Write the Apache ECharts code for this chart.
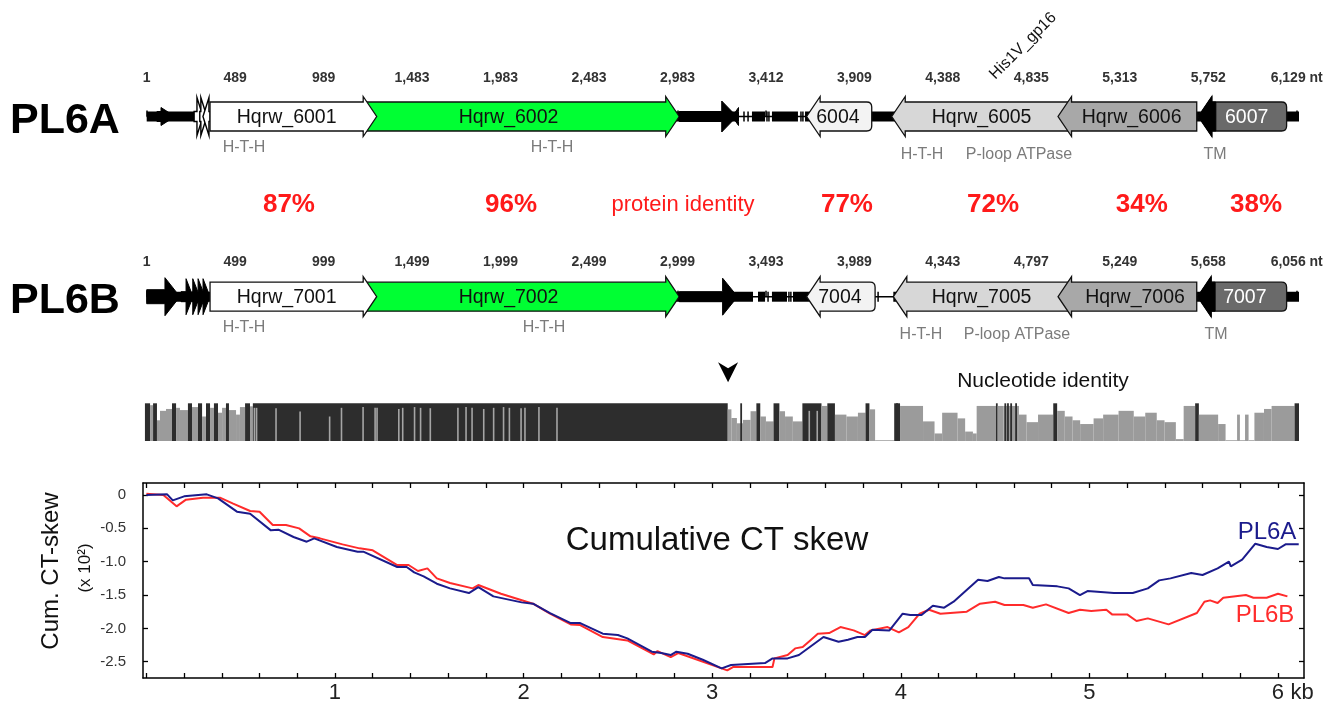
<!DOCTYPE html>
<html><head><meta charset="utf-8">
<script src="https://cdn.jsdelivr.net/npm/echarts@6/dist/echarts.min.js"></script>
<style>html,body{margin:0;padding:0;background:#fff}#c{width:1341px;height:703px}</style>
</head><body><div id="c"></div>
<script>
// ================= DATA =================
// gene-map axis: alignment position (columns), ticks every 500 columns
const tickLabelsA = ['1','489','989','1,483','1,983','2,483','2,983','3,412','3,909','4,388','4,835','5,313','5,752','6,129 nt'];
const tickLabelsB = ['1','499','999','1,499','1,999','2,499','2,999','3,493','3,989','4,343','4,797','5,249','5,658','6,056 nt'];

// PL6A genes (alignment columns), drawn in this order
const geneA_start  = [58, 268, 300, 318, 1223, 358, 3010, 3310, 3730, 4211, 5151, 5944];
const geneA_end    = [160, 318, 340, 358, 3010, 1300, 3335, 3345, 4098, 5227, 5935, 6443];
const geneA_strand = [1, 1, 1, -1, 1, 1, 1, -1, -1, -1, -1, -1];
const geneA_kind   = ['S','TO','TO','TO','G','W','K','S','P','L','M','D'];
const geneA_name   = ['','','','','Hqrw_6002','Hqrw_6001','','','6004','Hqrw_6005','Hqrw_6006','6007'];
const geneA_nameAt = [0,0,0,0,2045,791,0,0,3907,4719,5567,6217];
const backA_start  = [0, 3421, 3534, 3721];
const backA_end    = [3342, 3495, 3681, 6513];
const gapMarksA    = [3376, 3399, 3506, 3517, 3698, 3709];
const annotA_text  = ['H-T-H','H-T-H','H-T-H','P-loop ATPase','TM'];
const annotA_at    = [550, 2291, 4382, 4930, 6038];
const annotA_tier  = [0, 0, 1, 1, 1];

// PL6B genes
const geneB_start  = [0, 194, 256, 290, 318, 1223, 358, 3010, 3730, 4220, 5151, 5940];
const geneB_end    = [188, 262, 300, 330, 358, 3010, 1300, 3340, 4117, 5227, 5935, 6443];
const geneB_strand = [1, 1, 1, 1, 1, 1, 1, 1, -1, -1, -1, -1];
const geneB_kind   = ['KB1','T','T','T','T','G','W','KB','P','L','M','D'];
const geneB_name   = ['','','','','','Hqrw_7002','Hqrw_7001','','7004','Hqrw_7005','Hqrw_7006','7007'];
const geneB_nameAt = [0,0,0,0,0,2045,791,0,3918,4719,5586,6207];
const backB_start  = [0, 3455, 3534, 3653, 4220];
const backB_end    = [3427, 3495, 3619, 4117, 6513];
const gapMarksB    = [3512, 3630, 3641, 4134];
const annotB_text  = ['H-T-H','H-T-H','H-T-H','P-loop ATPase','TM'];
const annotB_at    = [550, 2246, 4376, 4919, 6044];
const annotB_tier  = [0, 0, 1, 1, 1];
const mapEnd = 6513;

// protein identity row
const protText = ['87%','96%','protein identity','77%','72%','34%','38%'];
const protAt   = [804, 2059, 3031, 3958, 4784, 5625, 6270];

// nucleotide identity (% identity per alignment window; segment ends at next start)
const identStart = [-10,19,36,58,75,109,143,166,188,233,256,290,313,335,358,380,403,426,448,465,
  505,527,556,584,600,3284,3305,3336,3370,3413,3446,3468,3500,3543,3576,3608,3652,3706,3814,3847,
  3890,3955,4020,4063,4085,4117,4225,4258,4388,4453,4496,4583,4626,4670,4691,4800,4810,4843,4930,4973,
  5038,5124,5146,5189,5233,5276,5352,5406,5493,5579,5644,5709,5753,5817,5861,5926,5947,6056,6098,6163,
  6179,6208,6228,6261,6315,6358,6488];
const identPct = [100,95,100,55,80,85,100,88,82,100,90,100,65,100,88,100,75,88,100,82,
  70,90,100,92,100,84,61,47,56,79,100,65,52,100,79,65,52,100,93,100,
  70,65,75,100,84,2,100,93,52,20,75,60,25,20,93,100,93,93,70,50,
  70,100,80,65,55,45,60,70,80,65,75,55,50,5,93,100,70,45,2,70,
  2,70,2,75,85,93,100];
const identEnd = 6513;
const grayLineAt  = [609,621,731,867,1034,1101,1223,1291,1302,1425,1447,1514,1548,1603,1759,1805,1839,1905,1961,2017,2050,2116,2138,2217,2319,3745,3790];
const grayLinePct = [88,88,87,78,65,88,90,88,88,85,88,90,88,87,88,90,88,85,88,90,88,87,88,90,88,80,80];
const darkLineAt  = [3360, 4241, 4853, 4868, 4886, 4914];
const breakpointAt = [3286];

// cumulative CT skew (kb, x10^2)
const skewPL6A = [[0,0],[0.11,0.01],[0.14,-0.08],[0.20,-0.02],[0.32,0.01],[0.38,-0.05],[0.48,-0.25],[0.55,-0.28],
  [0.66,-0.53],[0.70,-0.52],[0.78,-0.63],[0.85,-0.70],[0.89,-0.65],[1.01,-0.78],[1.12,-0.85],[1.15,-0.85],
  [1.33,-1.08],[1.38,-1.08],[1.42,-1.16],[1.47,-1.22],[1.54,-1.33],[1.61,-1.40],[1.71,-1.47],[1.76,-1.38],
  [1.84,-1.52],[1.99,-1.61],[2.05,-1.63],[2.14,-1.77],[2.25,-1.92],[2.30,-1.92],[2.42,-2.08],[2.50,-2.10],
  [2.55,-2.15],[2.68,-2.35],[2.73,-2.37],[2.78,-2.40],[2.81,-2.35],[2.87,-2.38],[2.95,-2.47],[3.05,-2.60],
  [3.10,-2.55],[3.28,-2.52],[3.32,-2.45],[3.40,-2.45],[3.46,-2.40],[3.59,-2.13],[3.67,-2.20],[3.72,-2.17],
  [3.77,-2.13],[3.81,-2.13],[3.85,-2.02],[3.94,-2.03],[4.01,-1.78],[4.05,-1.80],[4.11,-1.80],[4.17,-1.66],
  [4.23,-1.69],[4.28,-1.60],[4.41,-1.27],[4.46,-1.29],[4.52,-1.23],[4.55,-1.25],[4.68,-1.25],[4.70,-1.35],
  [4.83,-1.37],[4.89,-1.40],[4.95,-1.50],[4.99,-1.44],[5.13,-1.47],[5.23,-1.47],[5.31,-1.40],[5.37,-1.28],
  [5.43,-1.25],[5.54,-1.17],[5.60,-1.20],[5.68,-1.10],[5.74,-1.00],[5.75,-1.07],[5.81,-0.97],[5.88,-0.73],
  [5.94,-0.78],[6.00,-0.81],[6.04,-0.74],[6.11,-0.74]];
const skewPL6B = [[0,0.02],[0.09,0],[0.16,-0.17],[0.21,-0.07],[0.30,-0.04],[0.39,-0.04],[0.46,-0.13],[0.55,-0.24],
  [0.60,-0.25],[0.67,-0.45],[0.74,-0.45],[0.81,-0.50],[0.87,-0.62],[0.92,-0.65],[1.04,-0.74],[1.13,-0.80],
  [1.20,-0.83],[1.33,-1.05],[1.39,-1.05],[1.44,-1.14],[1.49,-1.10],[1.54,-1.25],[1.61,-1.32],[1.73,-1.40],
  [1.76,-1.35],[1.88,-1.48],[2.05,-1.63],[2.14,-1.78],[2.25,-1.94],[2.30,-1.95],[2.42,-2.13],[2.55,-2.18],
  [2.69,-2.39],[2.71,-2.34],[2.78,-2.43],[2.82,-2.37],[3.05,-2.60],[3.08,-2.63],[3.11,-2.58],[3.32,-2.58],
  [3.33,-2.45],[3.40,-2.40],[3.44,-2.30],[3.48,-2.28],[3.52,-2.18],[3.56,-2.08],[3.62,-2.07],[3.68,-1.98],
  [3.75,-2.03],[3.81,-2.10],[3.84,-2.03],[3.93,-1.98],[3.99,-2.06],[4.04,-1.98],[4.10,-1.78],[4.15,-1.72],
  [4.21,-1.78],[4.35,-1.75],[4.42,-1.63],[4.50,-1.60],[4.55,-1.65],[4.65,-1.65],[4.70,-1.69],[4.77,-1.64],
  [4.89,-1.77],[4.95,-1.72],[5.01,-1.74],[5.09,-1.72],[5.12,-1.79],[5.20,-1.79],[5.25,-1.89],[5.31,-1.85],
  [5.42,-1.94],[5.57,-1.77],[5.61,-1.60],[5.64,-1.58],[5.68,-1.62],[5.71,-1.54],[5.83,-1.50],[5.87,-1.54],
  [5.94,-1.54],[6.00,-1.48],[6.05,-1.52]];
const skewXLabels = ['1','2','3','4','5','6'];
const skewXLabelAt = [1,2,3,4,5,6];
const skewYTicks = [0,-0.5,-1,-1.5,-2,-2.5];

// ================= STYLE / RENDER =================
const FONT = '"Liberation Sans", Arial, Helvetica, sans-serif';
const KIND = {
  W:{fill:'#ffffff', body:29, head:40, hl:13.5, stroke:'#111', lw:1.3},
  G:{fill:'#00ff33', body:29, head:40, hl:13.5, stroke:'#111', lw:1.3},
  P:{fill:'#f3f3f3', body:29, head:40, hl:13.5, stroke:'#111', lw:1.3, r:5},
  L:{fill:'#d7d7d7', body:29, head:40, hl:13.5, stroke:'#111', lw:1.3},
  M:{fill:'#a8a8a8', body:29, head:40, hl:13.5, stroke:'#111', lw:1.3},
  D:{fill:'#6a6a6a', body:29, head:40, hl:13.5, stroke:'#111', lw:1.3, r:5, text:'#ffffff', headBlack:true},
  K:{fill:'#000', body:10, head:31, hl:15, stroke:'#000', lw:1},
  KB:{fill:'#000', body:10, head:37, hl:15, stroke:'#000', lw:1},
  KB1:{fill:'#000', body:14, head:38, hl:15, stroke:'#000', lw:1},
  T:{fill:'#000', body:10, head:36, hl:7, stroke:'#000', lw:1},
  TO:{fill:'#fff', body:10, head:38, hl:6, stroke:'#000', lw:1.4},
  S:{fill:'#000', body:10, head:18, hl:14, stroke:'#000', lw:1}
};

function geneSeries(ax, starts, ends, strands, kinds, names, nameAt){
  return {type:'custom', xAxisIndex:ax, yAxisIndex:ax, clip:false, silent:true, z:3,
    data: starts.map((s,i)=>[s, ends[i], strands[i], i]),
    renderItem(params, api){
      const i = api.value(3), k = KIND[kinds[i]];
      const a = api.coord([api.value(0),0]), b = api.coord([api.value(1),0]);
      const cy = a[1], x0 = a[0], x1 = b[0], st = api.value(2);
      const hl = Math.min(k.hl, x1-x0), bh = k.body/2, hh = k.head/2, r = k.r||0;
      let d, hb;
      if (st > 0) {
        hb = x1 - hl;
        d = `M${x0+r},${cy-bh}L${hb},${cy-bh}L${hb},${cy-hh}L${x1},${cy}L${hb},${cy+hh}L${hb},${cy+bh}L${x0+r},${cy+bh}Q${x0},${cy+bh},${x0},${cy+bh-r}L${x0},${cy-bh+r}Q${x0},${cy-bh},${x0+r},${cy-bh}Z`;
      } else {
        hb = x0 + hl;
        d = `M${x1-r},${cy-bh}L${hb},${cy-bh}L${hb},${cy-hh}L${x0},${cy}L${hb},${cy+hh}L${hb},${cy+bh}L${x1-r},${cy+bh}Q${x1},${cy+bh},${x1},${cy+bh-r}L${x1},${cy-bh+r}Q${x1},${cy-bh},${x1-r},${cy-bh}Z`;
      }
      const children = [{type:'path', shape:{pathData:d, x:x0, y:cy-hh, width:x1-x0, height:2*hh},
        style:{fill:k.fill, stroke:k.stroke, lineWidth:k.lw, lineJoin:'miter'}}];
      if (k.headBlack) {
        const e = hb + 4;
        children.push({type:'polygon', shape:{points:[[x0,cy],[hb,cy-hh],[hb,cy-bh],[e,cy-bh],[e,cy+bh],[hb,cy+bh],[hb,cy+hh]]},
          style:{fill:'#000', stroke:'#000', lineWidth:1}});
      }
      if (names[i]) {
        const p = api.coord([nameAt[i],0]);
        children.push({type:'text', x:p[0], y:cy+1, style:{text:names[i], fill:k.text||'#111',
          fontSize:19.5, fontFamily:FONT, align:'center', verticalAlign:'middle'}});
      }
      return {type:'group', children};
    }};
}
function backboneSeries(ax, starts, ends, marks){
  return {type:'custom', xAxisIndex:ax, yAxisIndex:ax, clip:false, silent:true, z:2,
    data: starts.map((s,i)=>[s, ends[i], i]),
    renderItem(params, api){
      const a = api.coord([api.value(0),0]), b = api.coord([api.value(1),0]);
      const ch = [{type:'rect', shape:{x:a[0], y:a[1]-5, width:b[0]-a[0], height:10}, style:{fill:'#000'}}];
      if (params.dataIndex === 0) {
        const s = api.coord([0,0]), e = api.coord([mapEnd,0]);
        ch.unshift({type:'line', shape:{x1:s[0], y1:s[1], x2:e[0], y2:s[1]}, style:{stroke:'#000', lineWidth:1.4}});
        marks.forEach(m=>{ const p = api.coord([m,0]);
          ch.push({type:'line', shape:{x1:p[0], y1:p[1]-5, x2:p[0], y2:p[1]+5}, style:{stroke:'#000', lineWidth:1.5}}); });
      }
      return {type:'group', children:ch};
    }};
}
function annotSeries(ax, texts, at, tier){
  return {type:'custom', xAxisIndex:ax, yAxisIndex:ax, clip:false, silent:true, z:4,
    data: at.map((v,i)=>[v, tier[i], i]),
    renderItem(params, api){
      const p = api.coord([api.value(0),0]);
      const dy = api.value(1) ? 38 : 31;
      return {type:'text', x:p[0], y:p[1]+dy, style:{text:texts[api.value(2)], fill:'#7b7b7b', fontSize:16,
        fontFamily:FONT, align:'center', verticalAlign:'middle'}};
    }};
}
function mapXAxis(gi, labels, offset, margin){
  return {gridIndex:gi, type:'value', min:0, max:6500, interval:500, position:'top', offset:offset,
    axisLine:{show:false}, splitLine:{show:false},
    axisTick:{show:true, inside:false, length:6, interval:0, lineStyle:{color:'#444', width:2}},
    axisLabel:{show:true, interval:0, margin:margin, fontSize:14, fontWeight:'bold', color:'#333', fontFamily:FONT,
      formatter:(v)=> (Math.abs(v % 500) < 1e-6 ? (labels[Math.round(v/500)] || '') : '')}};
}
function hiddenX(gi){ return {gridIndex:gi, type:'value', min:0, max:6500, show:false, splitLine:{show:false}}; }
function hiddenY(gi, mn, mx){ return {gridIndex:gi, type:'value', min:mn, max:mx, show:false, splitLine:{show:false}}; }

const minorTicks = Array.from({length:31}, (_, i) => +(i*0.2).toFixed(1));
const BLUE = '#1b1b8c', RED = '#ff2b2b';

const option = {
  animation:false,
  backgroundColor:'#ffffff',
  textStyle:{fontFamily:FONT},
  grid:[
    {left:146.7, top:96.5, width:1150, height:40, outerBoundsMode:'none'},
    {left:146.7, top:185, width:1150, height:40, outerBoundsMode:'none'},
    {left:146.7, top:276.7, width:1150, height:40, outerBoundsMode:'none'},
    {left:146.7, top:403.3, width:1150, height:37.7, outerBoundsMode:'none'},
    {left:143, top:483, width:1161, height:195, outerBoundsMode:'none'}
  ],
  xAxis:[
    mapXAxis(0, tickLabelsA, 3.5, 8),
    hiddenX(1),
    mapXAxis(2, tickLabelsB, 0.5, 7),
    hiddenX(3),
    {gridIndex:4, type:'value', min:-0.018, max:6.138, position:'bottom',
      axisLine:{show:true, onZero:false, lineStyle:{color:'#000', width:1.5}}, splitLine:{show:false},
      axisTick:{show:true, inside:true, length:5, customValues:minorTicks, lineStyle:{color:'#000', width:1.3}},
      axisLabel:{show:true, customValues:skewXLabelAt, margin:4, fontSize:22, color:'#222', fontFamily:FONT,
        formatter:(v)=>{ const i = skewXLabelAt.indexOf(Math.round(v)); const t = skewXLabels[i] || '';
          return Math.round(v) === 6 ? '{p|}' + t + '{k| kb}' : t; },
        rich:{p:{width:30, fontSize:22}, k:{width:30, fontSize:22, color:'#222'}}}},
    {gridIndex:4, type:'value', min:-0.018, max:6.138, position:'top',
      axisLine:{show:true, onZero:false, lineStyle:{color:'#000', width:1.5}}, splitLine:{show:false},
      axisTick:{show:true, inside:true, length:5, customValues:minorTicks, lineStyle:{color:'#000', width:1.3}},
      axisLabel:{show:false}}
  ],
  yAxis:[
    hiddenY(0,-1,1), hiddenY(1,-1,1), hiddenY(2,-1,1), hiddenY(3,0,100),
    {gridIndex:4, type:'value', min:-2.744, max:0.18, position:'left',
      axisLine:{show:true, onZero:false, lineStyle:{color:'#000', width:1.5}}, splitLine:{show:false},
      axisTick:{show:true, inside:true, length:5, customValues:skewYTicks, lineStyle:{color:'#000', width:1.3}},
      axisLabel:{show:true, customValues:skewYTicks, margin:17, fontSize:15, color:'#333', fontFamily:FONT,
        formatter:(v)=> Math.abs(v) < 1e-9 ? '0' : v.toFixed(1)}},
    {gridIndex:4, type:'value', min:-2.744, max:0.18, position:'right',
      axisLine:{show:true, onZero:false, lineStyle:{color:'#000', width:1.5}}, splitLine:{show:false},
      axisTick:{show:true, inside:true, length:5, customValues:skewYTicks, lineStyle:{color:'#000', width:1.3}},
      axisLabel:{show:false}}
  ],
  series:[
    backboneSeries(0, backA_start, backA_end, gapMarksA),
    geneSeries(0, geneA_start, geneA_end, geneA_strand, geneA_kind, geneA_name, geneA_nameAt),
    annotSeries(0, annotA_text, annotA_at, annotA_tier),
    backboneSeries(2, backB_start, backB_end, gapMarksB),
    geneSeries(2, geneB_start, geneB_end, geneB_strand, geneB_kind, geneB_name, geneB_nameAt),
    annotSeries(2, annotB_text, annotB_at, annotB_tier),
    {type:'custom', xAxisIndex:1, yAxisIndex:1, clip:false, silent:true,
      data: protAt.map((v,i)=>[v, 0, i]),
      renderItem(params, api){
        const p = api.coord([api.value(0), 0]); const t = protText[api.value(2)];
        const pct = /%$/.test(t);
        return {type:'text', x:p[0], y:p[1], style:{text:t, fill:'#ff1a1a', fontSize: pct ? 26 : 22,
          fontWeight: pct ? 'bold' : 'normal', fontFamily:FONT, align:'center', verticalAlign:'middle'}};
      }},
    // nucleotide identity segments
    {type:'custom', xAxisIndex:3, yAxisIndex:3, clip:false, silent:true,
      data: identStart.map((s,i)=>[s, i+1 < identStart.length ? identStart[i+1] : identEnd, identPct[i]]),
      renderItem(params, api){
        const a = api.coord([api.value(0), 0]), b = api.coord([api.value(1), api.value(2)]);
        return {type:'rect', shape:{x:a[0], y:b[1], width:b[0]-a[0], height:a[1]-b[1]},
          style:{fill: api.value(2) >= 100 ? '#2d2d2d' : '#9b9b9b'}};
      }},
    {type:'custom', xAxisIndex:3, yAxisIndex:3, clip:false, silent:true, z:3,
      data: grayLineAt.map((v,i)=>[v, grayLinePct[i]]),
      renderItem(params, api){
        const a = api.coord([api.value(0), 0]), b = api.coord([api.value(0), api.value(1)]);
        return {type:'rect', shape:{x:a[0]-0.8, y:b[1], width:1.6, height:a[1]-b[1]}, style:{fill:'#a5a5a5'}};
      }},
    {type:'custom', xAxisIndex:3, yAxisIndex:3, clip:false, silent:true, z:3,
      data: darkLineAt.map(v=>[v, 100]),
      renderItem(params, api){
        const a = api.coord([api.value(0), 0]), b = api.coord([api.value(0), api.value(1)]);
        return {type:'rect', shape:{x:a[0]-0.9, y:b[1], width:1.8, height:a[1]-b[1]}, style:{fill:'#2d2d2d'}};
      }},
    {type:'custom', xAxisIndex:3, yAxisIndex:3, clip:false, silent:true, z:3,
      data: breakpointAt.map(v=>[v, 100]),
      renderItem(params, api){
        const p = api.coord([api.value(0), api.value(1)]); const cx = p[0], cy = p[1] - 31;
        return {type:'polygon', shape:{points:[[cx-10,cy-10],[cx,cy-4],[cx+10,cy-10],[cx,cy+10]]}, style:{fill:'#000'}};
      }},
    // skew lines
    {type:'line', xAxisIndex:4, yAxisIndex:4, data:skewPL6B, showSymbol:false, symbol:'none', silent:true,
      lineStyle:{color:RED, width:2}, z:3},
    {type:'line', xAxisIndex:4, yAxisIndex:4, data:skewPL6A, showSymbol:false, symbol:'none', silent:true,
      lineStyle:{color:BLUE, width:2}, z:4}
  ],
  graphic:[
    {type:'text', x:10, y:121, style:{text:'PL6A', fontSize:43, fontWeight:'bold', fill:'#000', fontFamily:FONT, align:'left', verticalAlign:'middle'}},
    {type:'text', x:10, y:301, style:{text:'PL6B', fontSize:43, fontWeight:'bold', fill:'#000', fontFamily:FONT, align:'left', verticalAlign:'middle'}},
    {type:'text', x:1023, y:46, rotation:Math.PI/4, style:{text:'His1V_gp16', fontSize:16, fill:'#111', fontFamily:FONT, align:'center', verticalAlign:'middle'}},
    {type:'text', x:1043, y:381, style:{text:'Nucleotide identity', fontSize:21, fill:'#111', fontFamily:FONT, align:'center', verticalAlign:'middle'}},
    {type:'text', x:51, y:571, rotation:Math.PI/2, style:{text:'Cum. CT-skew', fontSize:24, fill:'#111', fontFamily:FONT, align:'center', verticalAlign:'middle'}},
    {type:'text', x:85, y:568, rotation:Math.PI/2, style:{text:'(x 10²)', fontSize:17, fill:'#111', fontFamily:FONT, align:'center', verticalAlign:'middle'}},
    {type:'text', x:717, y:541, style:{text:'Cumulative CT skew', fontSize:33, fill:'#111', fontFamily:FONT, align:'center', verticalAlign:'middle'}},
    {type:'text', x:1267, y:532, style:{text:'PL6A', fontSize:24, fill:BLUE, fontFamily:FONT, align:'center', verticalAlign:'middle'}},
    {type:'text', x:1265, y:615, style:{text:'PL6B', fontSize:24, fill:RED, fontFamily:FONT, align:'center', verticalAlign:'middle'}}
  ]
};
const chart = echarts.init(document.getElementById('c'), null, {renderer:'canvas', width:1341, height:703});
chart.setOption(option);
</script>
</body></html>
